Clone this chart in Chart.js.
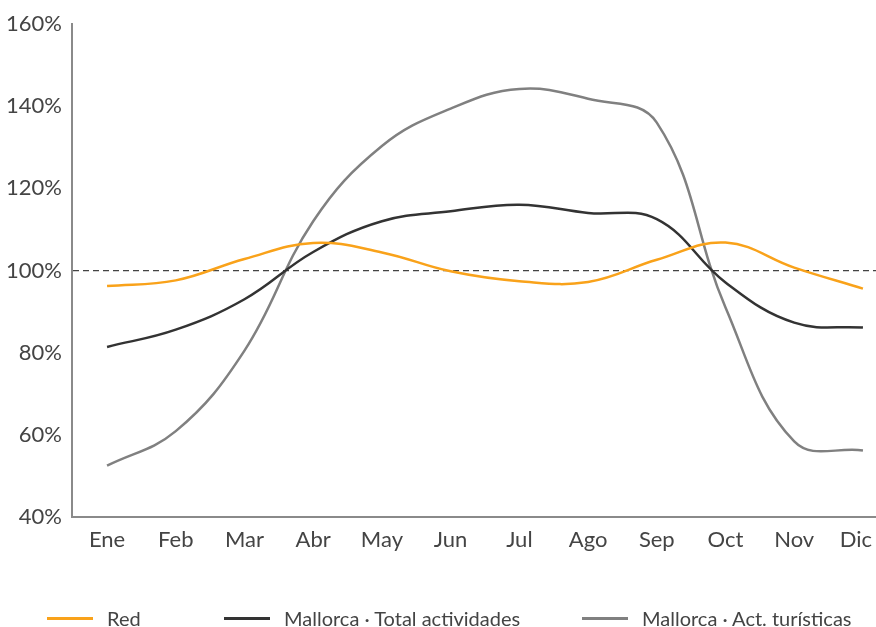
<!DOCTYPE html>
<html>
<head>
<meta charset="utf-8">
<script src="https://cdn.jsdelivr.net/npm/chart.js@4"></script>
<style>
  html, body { margin: 0; padding: 0; background: #fff; }
  #wrap { position: relative; width: 876px; height: 627px; }
  #legend { position: absolute; top: 606px; left: 0; width: 876px; height: 24px; font-family: Lato, sans-serif; font-size: 20px; color: #444; }
  .item { position: absolute; top: 0; display: flex; align-items: center; height: 24px; }
  .sw { width: 46px; height: 3px; margin-right: 14px; }
</style>
</head>
<body>
<div id="wrap">
  <canvas id="c" width="876" height="627"></canvas>
  <div id="legend"></div>
</div>
<script>
const months = ['Ene','Feb','Mar','Abr','May','Jun','Jul','Ago','Sep','Oct','Nov','Dic'];
const red = [96.2, 97.6, 102.8, 106.7, 104.4, 99.8, 97.4, 97.2, 102.6, 106.8, 100.7, 95.6];
const totalAct = [81.4, 85.6, 93.0, 104.5, 112.0, 114.4, 116.0, 114.0, 112.5, 97.1, 87.3, 86.1];
const turisticas = [52.5, 60.9, 80.5, 112.0, 130.3, 139.4, 144.2, 141.8, 136.0, 91.0, 58.4, 56.2];
const yTicks = [40, 60, 80, 100, 120, 140, 160];
const seriesNames = ['Red', 'Mallorca · Total actividades', 'Mallorca · Act. turísticas'];
const seriesColors = ['#F9A21A', '#333333', '#808080'];
const legendX = [47, 224, 582];

const toPts = arr => arr.map((v, i) => ({ x: i, y: v }));
const datasets = [red, totalAct, turisticas].map((arr, k) => ({
  label: seriesNames[k],
  data: toPts(arr),
  borderColor: seriesColors[k],
  backgroundColor: seriesColors[k],
  borderWidth: 2.5,
  pointRadius: 0,
  tension: 0.4,
  fill: false
}));

// keep the last x label ("Dic") inside the canvas, as in the reference
const fitLastLabel = {
  id: 'fitLastLabel',
  beforeDraw(chart) {
    try {
      const s = chart.scales.x;
      const items = s.getLabelItems(chart.chartArea);
      const last = items[items.length - 1];
      if (last && last.options && last.options.translation) {
        last.options.translation[0] -= 7;
      }
    } catch (e) {}
  }
};

new Chart(document.getElementById('c'), {
  type: 'line',
  data: { datasets },
  plugins: [fitLastLabel],
  options: {
    responsive: false,
    animation: false,
    layout: { padding: { top: 24, right: 0, bottom: 0, left: 0 } },
    plugins: { legend: { display: false }, tooltip: { enabled: false } },
    scales: {
      x: {
        type: 'linear',
        min: -0.51,
        max: 11.19,
        afterBuildTicks: s => { s.ticks = months.map((m, i) => ({ value: i })); },
        afterFit: s => { s.height = 110; s.paddingLeft = 0; s.paddingRight = 0; },
        grid: { display: false, drawTicks: false },
        border: { display: true, color: '#8a8a8a', width: 2 },
        ticks: {
          autoSkip: false,
          maxRotation: 0,
          padding: 10,
          color: '#444',
          font: { family: 'Lato', size: 22 },
          callback: v => months[v] ?? ''
        }
      },
      y: {
        min: 40,
        max: 160,
        afterBuildTicks: s => { s.ticks = yTicks.map(v => ({ value: v })); },
        afterFit: s => { s.width = 72; s.paddingTop = 0; s.paddingBottom = 0; },
        grid: {
          drawTicks: false,
          color: c => (c.tick && c.tick.value === 100) ? '#444' : 'rgba(0,0,0,0)',
          lineWidth: 1.2
        },
        border: { display: true, color: '#8a8a8a', width: 2, dash: [6, 4] },
        ticks: {
          padding: 10,
          color: '#444',
          font: { family: 'Lato', size: 22 },
          callback: v => v + '%'
        }
      }
    }
  }
});

const lg = document.getElementById('legend');
seriesNames.forEach((n, k) => {
  const it = document.createElement('div');
  it.className = 'item';
  it.style.left = legendX[k] + 'px';
  const sw = document.createElement('span');
  sw.className = 'sw';
  sw.style.background = seriesColors[k];
  const t = document.createElement('span');
  t.textContent = n;
  it.appendChild(sw); it.appendChild(t);
  lg.appendChild(it);
});
</script>
</body>
</html>
